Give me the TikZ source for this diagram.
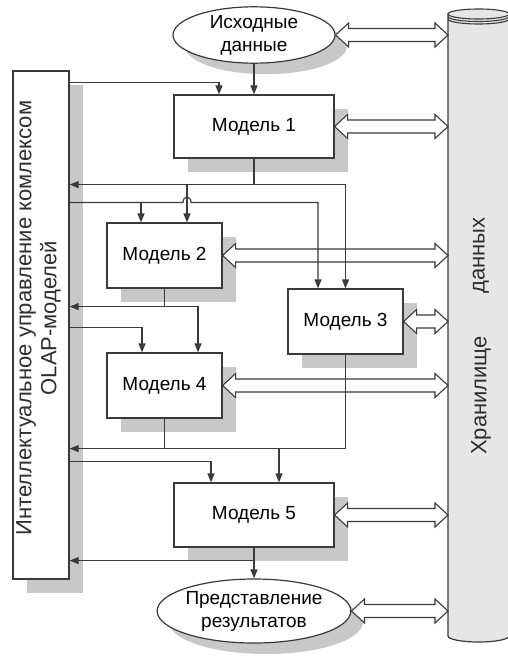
\documentclass[tikz,border=0pt]{standalone}
\usepackage{fontspec}
\setmainfont{Liberation Sans}
\usetikzlibrary{shapes.geometric,shadows,arrows.meta,calc}
\definecolor{ln}{HTML}{3A3A3A}
\definecolor{shd}{HTML}{C8C8C8}
\definecolor{cylf}{HTML}{E6E6E6}
\tikzset{
  line/.style={draw=ln, line width=1.2pt},
  arr/.style={line, -{Triangle[length=9pt,width=7pt]}},
  shadowed/.style={general shadow={fill=shd, shadow xshift=14pt, shadow yshift=-14pt}},
  modelbox/.style={rectangle, draw=ln, line width=1.2pt, fill=white, inner sep=0pt, shadowed,
    font=\fontsize{19}{23}\selectfont},
  oval/.style={ellipse, draw=ln, line width=1.2pt, fill=white, inner sep=0pt, align=center,
    general shadow={fill=shd, shadow xshift=12pt, shadow yshift=-11pt},
    font=\fontsize{19}{23}\selectfont},
  dbl/.style={draw=ln, line width=1.1pt, fill=white, line join=miter},
  vtext/.style={rotate=90, inner sep=0pt, align=center, font=\fontsize{22}{25}\selectfont, text=ln!80!black}
}
\newcommand\dblarr[2]{\path[dbl] let \p1=(#1), \p2=(#2) in
  (\x1,\y1) -- (\x1+13pt,\y1+12pt) -- (\x1+13pt,\y1+6.5pt) -- (\x2-13pt,\y1+6.5pt) --
  (\x2-13pt,\y1+12pt) -- (\x2,\y1) -- (\x2-13pt,\y1-12pt) -- (\x2-13pt,\y1-6.5pt) --
  (\x1+13pt,\y1-6.5pt) -- (\x1+13pt,\y1-12pt) -- cycle;}
\begin{document}
\begin{tikzpicture}[x=1pt,y=-1pt]
\useasboundingbox[fill=white] (0,0) rectangle (507,658);
% storage cylinder
\filldraw[fill=cylf, draw=ln, line width=1.2pt] (448,14) -- (448,636)
  arc[start angle=180,end angle=360,x radius=30.5pt,y radius=6pt] -- (509,14) -- cycle;
\filldraw[fill=cylf, draw=ln, line width=1.1pt] (478.5,14) ellipse[x radius=30.5pt, y radius=5pt];
\draw[draw=ln, line width=1.1pt] (448,16.5) arc[start angle=180,end angle=360,x radius=30.5pt,y radius=5pt];
\draw[draw=ln, line width=1.1pt] (448,19) arc[start angle=180,end angle=360,x radius=30.5pt,y radius=5pt];
\coordinate (cylw) at (448,300);
\node[vtext] (st1) at (481,395.5) {Хранилище};
\node[vtext] (st2) at (481,255.5) {данных};
% left control box
\node[modelbox, minimum width=56pt, minimum height=508pt] (lbox) at (41,325) {};
\node[vtext] (ltext) at (38.5,318) {Интеллектуальное управление комлексом\\OLAP-моделей};
% models
\node[oval, minimum width=162pt, minimum height=54pt] (e1) at (254,35) {Исходные\\данные};
\node[modelbox, minimum width=160pt, minimum height=63pt] (m1) at (254,126.5) {Модель 1};
\node[modelbox, minimum width=115pt, minimum height=65pt] (m2) at (164.5,255.5) {Модель 2};
\node[modelbox, minimum width=115pt, minimum height=65pt] (m3) at (345.5,321.5) {Модель 3};
\node[modelbox, minimum width=115pt, minimum height=65pt] (m4) at (164.5,385.5) {Модель 4};
\node[modelbox, minimum width=160pt, minimum height=64pt] (m5) at (254,515) {Модель 5};
\node[oval, minimum width=180pt, minimum height=64pt] (e2) at (254,611) {Представление\\результатов};
% double arrows to storage
\dblarr{e1.east}{e1.east -| cylw}
\dblarr{m1.east}{m1.east -| cylw}
\dblarr{m2.east}{m2.east -| cylw}
\dblarr{m3.east}{m3.east -| cylw}
\dblarr{m4.east}{m4.east -| cylw}
\dblarr{m5.east}{m5.east -| cylw}
\dblarr{e2.east}{e2.east -| cylw}
% coordinates
\coordinate (a1) at ($(lbox.north east)+(0,12)$);
\coordinate (a2) at ($(lbox.north east)+(0,132)$);
\coordinate (a3) at ($(lbox.north east)+(0,257)$);
\coordinate (a4) at ($(lbox.north east)+(0,391)$);
\coordinate (j1) at ($(m1.south)+(0,26)$);
\coordinate (j2) at ($(m2.south)+(0,18)$);
\coordinate (j3) at ($(m4.south)+(0,30)$);
\coordinate (j4) at ($(m5.south)+(0,13)$);
\coordinate (b1) at ([xshift=22.5pt]m2.north);
\coordinate (b2) at ([xshift=-23.5pt]m2.north);
\coordinate (b3) at ([xshift=33.5pt]m4.north);
\coordinate (b4) at ([xshift=-22.5pt]m4.north);
\coordinate (b5) at ([xshift=25pt]m5.north);
\coordinate (b6) at ([xshift=-43pt]m5.north);
\coordinate (b7) at ([xshift=-35pt]m1.north);
\coordinate (b8) at ([xshift=-27.5pt]m3.north);
\coordinate (x1) at (b1 |- a2);
% connectors
\draw[arr] (e1.south) -- (m1.north);
\draw[arr] (a1) -| (b7);
\draw[line] (m1.south) -- (j1);
\draw[arr] (j1) -- (j1 -| lbox.east);
\draw[arr] (j1) -| (m3.north);
\draw[arr] (b1 |- j1) -- (b1);
\draw[arr] (a2) -- ([xshift=-4pt]x1) .. controls +(0,-7) and +(0,-7) .. ([xshift=4pt]x1) -| (b8);
\draw[arr] (b2 |- a2) -- (b2);
\draw[line] (m2.south) -- (j2);
\draw[arr] (j2) -- (j2 -| lbox.east);
\draw[arr] (j2) -| (b3);
\draw[arr] (a3) -| (b4);
\draw[line] (m4.south) -- (j3);
\draw[arr] (m3.south) |- (j3 -| lbox.east);
\draw[arr] (b5 |- j3) -- (b5);
\draw[arr] (a4) -| (b6);
\draw[arr] (m5.south) -- (e2.north);
\draw[arr] (j4) -- (j4 -| lbox.east);
\end{tikzpicture}
\end{document}
